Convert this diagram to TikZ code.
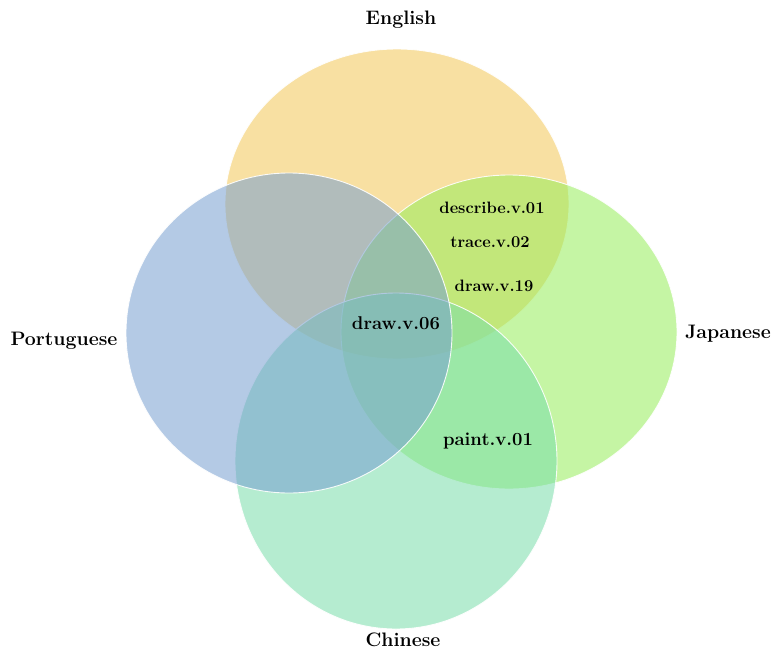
\documentclass[tikz,border=0pt]{standalone}
\usepackage{fontspec}
\setmainfont{Latin Modern Roman}
\definecolor{engC}{RGB}{244,200,86}
\definecolor{porC}{RGB}{119,159,209}
\definecolor{japC}{RGB}{151,237,90}
\definecolor{chiC}{RGB}{122,222,170}
\tikzset{
  setshape/.style={fill opacity=0.55, draw=white, draw opacity=0.9, line width=0.9pt},
  langlabel/.style={font=\fontsize{19.5}{21}\selectfont\bfseries, text=black},
  synlabel/.style={font=\fontsize{16.5}{18}\selectfont\bfseries, text=black},
  biglabel/.style={font=\fontsize{18.5}{20}\selectfont\bfseries, text=black}
}
\begin{document}
\begin{tikzpicture}[x=1pt,y=-1pt]
\useasboundingbox (0,0) rectangle (772,651);
\fill[white] (0,0) rectangle (772,651);
% sets
\path[setshape, fill=engC] (397,204) ellipse [x radius=172, y radius=155];
\path[setshape, fill=japC] (509,332) ellipse [x radius=168, y radius=157];
\path[setshape, fill=chiC] (396,461) ellipse [x radius=161, y radius=168];
\path[setshape, fill=porC] (289,333) ellipse [x radius=163, y radius=160];
% labels
\node[langlabel] (en) at (401,20) {English};
\node[langlabel] (pt) at (64,341) {Portuguese};
\node[langlabel] (ja) at (728,334) {Japanese};
\node[langlabel] (zh) at (403,640) {Chinese};
\node[synlabel] (s1) at (492,208) {describe.v.01};
\node[synlabel] (s2) at (490,242) {trace.v.02};
\node[synlabel] (s3) at (494,286) {draw.v.19};
\node[biglabel] (s4) at (396,323) {draw.v.06};
\node[biglabel] (s5) at (488,441) {paint.v.01};
\end{tikzpicture}
\end{document}
